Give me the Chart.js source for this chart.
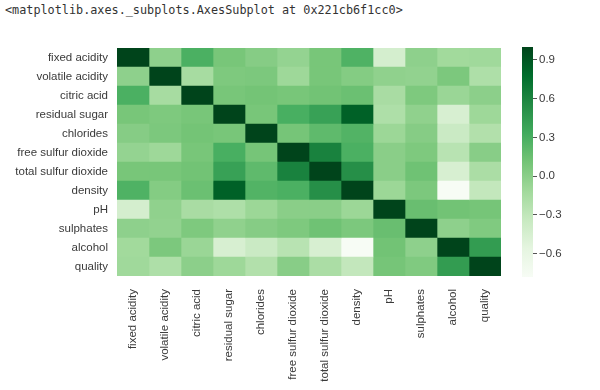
<!DOCTYPE html>
<html>
<head>
<meta charset="utf-8">
<script src="https://cdn.jsdelivr.net/npm/chart.js@4/dist/chart.umd.min.js"></script>
<style>
  html, body { margin: 0; padding: 0; background: #fff; }
  #wrap { position: relative; width: 600px; height: 390px; overflow: hidden; }
  #header {
    position: absolute; left: 5px; top: 3px;
    font-family: "DejaVu Sans Mono", monospace; font-size: 11.8px; color: #333;
    white-space: pre;
  }
  #heat { position: absolute; left: 0; top: 0; }
  #cbar { position: absolute; left: 500px; top: 0; }
</style>
</head>
<body>
<div id="wrap">
  <div id="header">&lt;matplotlib.axes._subplots.AxesSubplot at 0x221cb6f1cc0&gt;</div>
  <canvas id="heat" width="600" height="390"></canvas>
  <canvas id="cbar" width="100" height="390"></canvas>
</div>
<script>
// =============================
// DATA
// =============================
const features = [
  "fixed acidity", "volatile acidity", "citric acid", "residual sugar",
  "chlorides", "free sulfur dioxide", "total sulfur dioxide", "density",
  "pH", "sulphates", "alcohol", "quality"
];

// correlation matrix, rows in the same order as features
const corr = [
  [ 1.00, -0.02,  0.29,  0.09,  0.02, -0.05,  0.09,  0.27, -0.43, -0.02, -0.12, -0.11],
  [-0.02,  1.00, -0.15,  0.06,  0.07, -0.10,  0.09,  0.03, -0.03, -0.04,  0.07, -0.19],
  [ 0.29, -0.15,  1.00,  0.09,  0.11,  0.09,  0.12,  0.15, -0.16,  0.06, -0.08, -0.01],
  [ 0.09,  0.06,  0.09,  1.00,  0.09,  0.30,  0.40,  0.84, -0.19, -0.03, -0.45, -0.10],
  [ 0.02,  0.07,  0.11,  0.09,  1.00,  0.10,  0.20,  0.26, -0.09,  0.02, -0.36, -0.21],
  [-0.05, -0.10,  0.09,  0.30,  0.10,  1.00,  0.62,  0.29, -0.00,  0.06, -0.25,  0.01],
  [ 0.09,  0.09,  0.12,  0.40,  0.20,  0.62,  1.00,  0.53,  0.00,  0.13, -0.45, -0.17],
  [ 0.27,  0.03,  0.15,  0.84,  0.26,  0.29,  0.53,  1.00, -0.09,  0.07, -0.78, -0.31],
  [-0.43, -0.03, -0.16, -0.19, -0.09, -0.00,  0.00, -0.09,  1.00,  0.16,  0.12,  0.10],
  [-0.02, -0.04,  0.06, -0.03,  0.02,  0.06,  0.13,  0.07,  0.16,  1.00, -0.02,  0.05],
  [-0.12,  0.07, -0.08, -0.45, -0.36, -0.25, -0.45, -0.78,  0.12, -0.02,  1.00,  0.44],
  [-0.11, -0.19, -0.01, -0.10, -0.21,  0.01, -0.17, -0.31,  0.10,  0.05,  0.44,  1.00]
];

const colorbarTicks = [-0.6, -0.3, 0.0, 0.3, 0.6, 0.9];

// matplotlib "Greens"
const greens = ["#f7fcf5", "#e5f5e0", "#c7e9c0", "#a1d99b", "#74c476",
                "#41ab5d", "#238b45", "#006d2c", "#00441b"];

const vmin = Math.min(...corr.flat());
const vmax = Math.max(...corr.flat());

function hexRgb(h) {
  return [1, 3, 5].map(i => parseInt(h.substr(i, 2), 16));
}

function greenColor(v) {
  let t = (v - vmin) / (vmax - vmin);
  t = Math.max(0, Math.min(1, t));
  const pos = t * (greens.length - 1);
  const i = Math.min(Math.floor(pos), greens.length - 2);
  const f = pos - i;
  const a = hexRgb(greens[i]), b = hexRgb(greens[i + 1]);
  const c = a.map((x, k) => Math.round(x + (b[k] - x) * f));
  return `rgb(${c[0]},${c[1]},${c[2]})`;
}

const labelFont = { family: "'Liberation Sans', Arial, sans-serif", size: 11.5 };
const labelColor = "#3a3a3a";

// =============================
// HEATMAP
// =============================
// one stacked dataset per column, each cell one unit wide
const heatDatasets = features.map((col, j) => ({
  label: col,
  data: features.map(() => 1),
  backgroundColor: corr.map(row => greenColor(row[j])),
  borderWidth: 0,
  barPercentage: 1,
  categoryPercentage: 1
}));

new Chart(document.getElementById("heat"), {
  type: "bar",
  data: { labels: features, datasets: heatDatasets },
  options: {
    indexAxis: "y",
    responsive: false,
    animation: false,
    layout: { padding: { top: 48, right: 99, left: 0, bottom: 0 } },
    plugins: { legend: { display: false }, tooltip: { enabled: false } },
    scales: {
      y: {
        stacked: true,
        grid: { display: false, drawTicks: false },
        border: { display: false },
        ticks: { font: labelFont, color: labelColor, padding: 9 },
        afterFit: s => { s.width = 117; }
      },
      x: {
        stacked: true,
        min: 0,
        max: features.length,
        grid: { display: false, drawTicks: false },
        border: { display: false },
        afterBuildTicks: s => {
          s.ticks = features.map((_, j) => ({ value: j + 0.5 }));
        },
        ticks: {
          autoSkip: false,
          minRotation: 90,
          maxRotation: 90,
          padding: 13,
          font: labelFont,
          color: labelColor,
          callback: (v, i) => features[i]
        },
        afterFit: s => { s.height = 390 - 48 - 228; }
      }
    }
  }
});

// =============================
// COLORBAR
// =============================
new Chart(document.getElementById("cbar"), {
  type: "bar",
  data: {
    labels: [""],
    datasets: [{
      data: [[vmin, vmax]],
      borderWidth: 0,
      barPercentage: 1,
      categoryPercentage: 1,
      backgroundColor: c => {
        const area = c.chart.chartArea;
        if (!area) return greens[4];
        const g = c.chart.ctx.createLinearGradient(0, area.bottom, 0, area.top);
        greens.forEach((col, i) => g.addColorStop(i / (greens.length - 1), col));
        return g;
      }
    }]
  },
  options: {
    responsive: false,
    animation: false,
    layout: { padding: { top: 47, bottom: 113, left: 22, right: 0 } },
    plugins: { legend: { display: false }, tooltip: { enabled: false } },
    scales: {
      x: { display: false },
      y: {
        position: "right",
        min: vmin,
        max: vmax,
        border: { display: false },
        grid: { drawOnChartArea: false, tickLength: 4, color: "#555" },
        afterBuildTicks: s => {
          s.ticks = colorbarTicks.map(v => ({ value: v }));
        },
        ticks: {
          padding: 2,
          font: labelFont,
          color: labelColor,
          callback: v => (v < 0 ? "\u2212" : "") + Math.abs(v).toFixed(1)
        },
        afterFit: s => { s.width = 67; }
      }
    }
  }
});
</script>
</body>
</html>
